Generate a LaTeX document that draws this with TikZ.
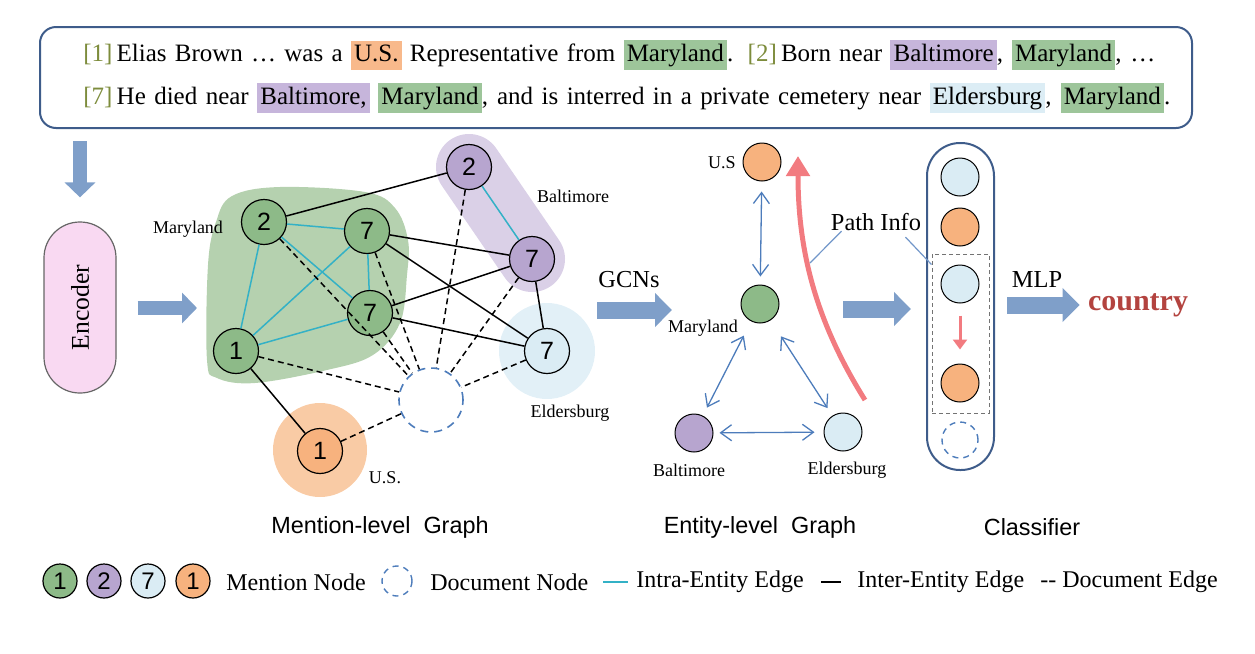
\documentclass[tikz,border=0pt]{standalone}
\usepackage{fontspec}
\usepackage{graphicx}
\setmainfont{Liberation Serif}
\newfontfamily\arialfont{Liberation Sans}
\usetikzlibrary{arrows.meta}

\definecolor{boxblue}{HTML}{3E5C8A}
\definecolor{flowblue}{HTML}{7F9FC9}
\definecolor{mdgreen}{HTML}{8DBA88}
\definecolor{mdarea}{HTML}{B5D1AF}
\definecolor{blpurple}{HTML}{B7A5CF}
\definecolor{blarea}{HTML}{DAD0E7}
\definecolor{elblue}{HTML}{DAECF4}
\definecolor{elarea}{HTML}{E2F0F7}
\definecolor{usorange}{HTML}{F7B27E}
\definecolor{usarea}{HTML}{F9CBA5}
\definecolor{intracyan}{HTML}{33B1C6}
\definecolor{entblue}{HTML}{4D7CBB}
\definecolor{pathred}{HTML}{F27B80}
\definecolor{refolive}{HTML}{7D8C3C}
\definecolor{encpink}{HTML}{F9D9F2}
\definecolor{countryred}{HTML}{B3433F}
\definecolor{hlgreen}{HTML}{9DC59A}
\definecolor{hlpurple}{HTML}{C6B5DB}
\definecolor{hlorange}{HTML}{F8B98B}
\definecolor{hlblue}{HTML}{DCEDF5}

\newcommand{\hlword}[2]{{\setlength{\fboxsep}{1.6pt}\colorbox{#1}{\vphantom{Mg}#2}}}
\newcommand{\refno}[1]{\textcolor{refolive}{[#1]}}

\begin{document}
\begin{tikzpicture}[x=0.5pt, y=-0.5pt,
    textframe/.style={draw=boxblue, line width=1pt, rounded corners=8pt, minimum width=576pt, minimum height=50.5pt},
    textline/.style={anchor=base west, inner sep=0pt, font=\fontsize{12.5}{14}\selectfont},
    flow/.style={draw=flowblue, line width=7pt, -{Triangle[length=7.5pt, width=15pt]}},
    bigflow/.style={draw=flowblue, line width=8.5pt, -{Triangle[length=8.5pt, width=16.5pt]}},
    encoder/.style={draw=black!60, fill=encpink, line width=0.6pt, rounded corners=17.9pt, minimum width=36pt, minimum height=85.5pt, inner sep=0pt, font=\fontsize{12.8}{13}\selectfont},
    mention/.style={circle, draw=black, line width=0.6pt, minimum size=22.5pt, inner sep=0pt, font=\arialfont\fontsize{12.5}{12.5}\selectfont},
    docnode/.style={circle, draw=entblue, line width=0.8pt, dash pattern=on 4pt off 3pt, minimum size=32pt, inner sep=0pt},
    intra/.style={draw=intracyan, line width=0.75pt},
    inter/.style={draw=black, line width=0.75pt},
    docedge/.style={draw=black, line width=0.75pt, dash pattern=on 3pt off 2pt},
    tag/.style={inner sep=0pt, font=\fontsize{9}{9}\selectfont},
    entity/.style={circle, draw=black, line width=0.5pt, minimum size=19pt, inner sep=0pt},
    entarrow/.style={draw=entblue, line width=0.65pt, {Straight Barb[length=5.5pt,width=8pt]}-{Straight Barb[length=5.5pt,width=8pt]}},
    pathcurve/.style={draw=pathred, line width=2.5pt, -{Triangle[length=10pt, width=11.5pt]}},
    pathline/.style={draw=entblue!80, line width=0.6pt},
    word/.style={inner sep=0pt, font=\fontsize{12.2}{12.5}\selectfont},
    classbox/.style={draw=boxblue, line width=1pt, rounded corners=16.5pt, minimum width=33.5pt, minimum height=163.5pt},
    pathbox/.style={draw=black!55, line width=0.5pt, dash pattern=on 2pt off 1.5pt, minimum width=28.5pt, minimum height=79.5pt},
    title/.style={font=\arialfont\fontsize{11.7}{12}\selectfont},
    legend/.style={anchor=west, inner sep=0pt, font=\fontsize{12}{12}\selectfont},
    legendnode/.style={mention, minimum size=17pt, font=\arialfont\fontsize{12}{12}\selectfont}]

\useasboundingbox (0,0) rectangle (1255,654);

% input document
\node[textframe] (frame) at (616,77.5) {};
\node[textline] (line1) at (83,61) {\makebox[536pt][s]{\refno{1}\,Elias Brown … was a \hlword{hlorange}{U.S.} Representative from \hlword{hlgreen}{Maryland}. \refno{2}\,Born near \hlword{hlpurple}{Baltimore}, \hlword{hlgreen}{Maryland}, …}};
\node[textline] (line2) at (83,104) {\makebox[543.5pt][s]{\refno{7}\,He died near \hlword{hlpurple}{Baltimore,} \hlword{hlgreen}{Maryland}, and is interred in a private cemetery near \hlword{hlblue}{Eldersburg}, \hlword{hlgreen}{Maryland}.}};

% encoder
\node[encoder] (enc) at (80,307.5) {\rotatebox{90}{Encoder}};
\draw[flow, shorten <=6pt, shorten >=12pt] (frame.south -| enc) -- (enc.north);
\coordinate (mgin) at (197,308);
\draw[flow, shorten <=10.5pt] (enc.east |- mgin) -- (mgin);

% mention-level graph
\fill[mdarea] plot[smooth cycle, tension=0.6] coordinates {(232,196) (280,187) (365,192) (395,208) (408,240) (407,275) (400,323) (373,355) (327,370) (255,383) (217,378) (207,360) (208,265) (216,222)};
\draw[blarea, line width=33pt, line cap=round] (469,167) -- (532,259);
\fill[elarea] (547,351) circle (48);
\fill[usarea] (320,450) circle (47);

\node[mention, fill=mdgreen] (m2) at (264,222) {2};
\node[mention, fill=mdgreen] (m7a) at (367,231) {7};
\node[mention, fill=mdgreen] (m7b) at (370,313) {7};
\node[mention, fill=mdgreen] (m1) at (236,351) {1};
\node[mention, fill=blpurple] (b2) at (469,167) {2};
\node[mention, fill=blpurple] (b7) at (532,259) {7};
\node[mention, fill=elblue] (e7) at (547,351) {7};
\node[mention, fill=usorange] (u1) at (320,451) {1};
\node[docnode] (doc) at (431,400) {};

\foreach \a/\b in {m2/m7a, m2/m7b, m2/m1, m7a/m7b, m7a/m1, m7b/m1, b2/b7}
  \draw[intra] (\a) -- (\b);
\foreach \a/\b in {m2/b2, m7a/b7, m7a/e7, m7b/b7, m7b/e7, b7/e7, m1/u1}
  \draw[inter] (\a) -- (\b);
\foreach \a in {m2, m7a, m7b, m1, b2, b7, e7, u1}
  \draw[docedge] (\a) -- (doc);

\node[tag] (mdtag) at (188,229) {Maryland};
\node[tag] (bltag) at (573,196) {Baltimore};
\node[tag] (eltag) at (570,413) {Eldersburg};
\node[tag] (ustag) at (385,478) {U.S.};

% GCNs
\node[word] (gcn) at (629,280) {GCNs};
\coordinate (gcnfrom) at (597,310);
\coordinate (gcnto) at (672,310);
\draw[bigflow] (gcnfrom) -- (gcnto);

% entity-level graph
\node[entity, fill=usorange] (eus) at (762,162) {};
\node[entity, fill=mdgreen] (emd) at (760,304) {};
\node[entity, fill=blpurple] (ebl) at (694,433) {};
\node[entity, fill=elblue] (eel) at (843,432) {};
\node[tag] (eustag) at (722,163) {U.S};
\node[tag] (emdtag) at (703,328) {Maryland};
\node[tag] (ebltag) at (689,470) {Baltimore};
\node[tag] (eeltag) at (847,470) {Eldersburg};

\draw[entarrow, shorten <=5pt, shorten >=4pt] (eus) -- (emd);
\draw[entarrow, shorten <=8pt, shorten >=4.5pt] (emd) -- (ebl);
\draw[entarrow, shorten <=9.5pt, shorten >=4.5pt] (emd) -- (eel);
\draw[entarrow, shorten <=3pt, shorten >=4.5pt] (ebl) -- (eel);

\coordinate (redfrom) at (865,400);
\coordinate (redto) at (798,156);
\draw[pathcurve] (redfrom) .. controls (815,320) and (798,250) .. (redto);

% classifier
\coordinate (ecfrom) at (843,309);
\node[classbox] (cls) at (960.5,306.5) {};
\draw[bigflow, shorten >=7.5pt] (ecfrom) -- (ecfrom -| cls.west);
\node[pathbox] (dbox) at (960.5,333.5) {};
\node[entity, fill=elblue] (c1) at (960,177) {};
\node[entity, fill=usorange] (c2) at (960,227) {};
\node[entity, fill=elblue] (c3) at (960,284) {};
\node[entity, fill=usorange] (c4) at (960,383) {};
\node[docnode, minimum size=18pt, line width=0.7pt, dash pattern=on 3pt off 2.5pt] (cdoc) at (960,440) {};
\draw[draw=pathred, line width=1.5pt, -{Triangle[length=5pt, width=7pt]}, shorten <=6pt, shorten >=7pt] (c3) -- (c4);

\node[word] (pinfo) at (876,222) {Path Info};
\coordinate (pathfoot) at (810,263);
\draw[pathline] (pathfoot) -- ([xshift=5.5pt]pinfo.south west);
\draw[pathline] ([xshift=-8pt,yshift=-3pt]pinfo.south east) -- ([yshift=-5.5pt]dbox.north west);

\node[inner sep=0pt, text=countryred, font=\bfseries\fontsize{15}{15}\selectfont] (country) at (1138,305) {country};
\node[word] (mlp) at (1037,280) {MLP};
\draw[bigflow, shorten <=6pt, shorten >=4pt] (cls.east |- country) -- (country.west);

% titles
\node[title] (t1) at (380,527) {Mention-level\ \ Graph};
\node[title] (t2) at (760,527) {Entity-level\ \ Graph};
\node[title] (t3) at (1032,527) {Classifier};

% legend
\node[legendnode, fill=mdgreen] (lg1) at (60,581) {1};
\node[legendnode, fill=blpurple] (lg2) at (104,581) {2};
\node[legendnode, fill=elblue] (lg3) at (148,581) {7};
\node[legendnode, fill=usorange] (lg4) at (193,581) {1};
\node[legend] (lgmention) at (226,582) {Mention Node};
\node[docnode, minimum size=15pt, line width=0.7pt, dash pattern=on 3pt off 2.5pt] (lgdoc) at (397,581) {};
\node[legend] (lgdocument) at (430,582) {Document Node};
\node[legend] (lgintra) at (636,582) {Intra-Entity Edge};
\node[legend] (lginter) at (857,582) {Inter-Entity Edge};
\node[legend] (lgdocedge) at (1040,582) {-{}- Document Edge};
\draw[intra, line width=1pt] ([xshift=-16.5pt]lgintra.west) -- ([xshift=-4pt]lgintra.west);
\draw[inter, line width=1pt] ([xshift=-18pt]lginter.west) -- ([xshift=-8pt]lginter.west);
\end{tikzpicture}
\end{document}
